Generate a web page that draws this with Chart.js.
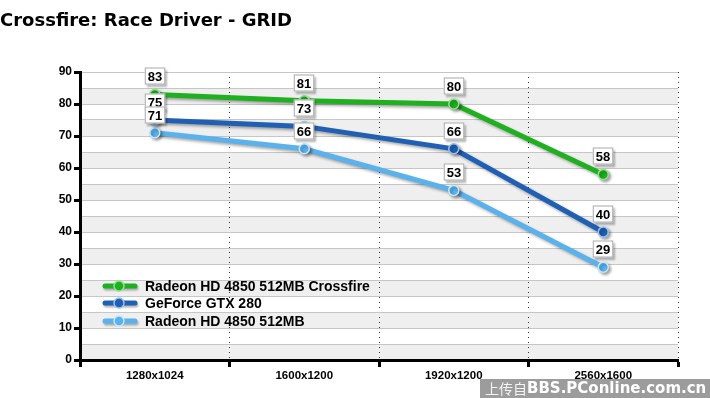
<!DOCTYPE html>
<html>
<head>
<meta charset="utf-8">
<script src="https://cdn.jsdelivr.net/npm/chart.js@4.4.0/dist/chart.umd.min.js"></script>
<style>
  html, body { margin: 0; padding: 0; background: #fff; }
  #wrap { width: 710px; height: 398px; }
</style>
</head>
<body>
<div id="wrap"><canvas id="chart" width="710" height="398"></canvas></div>
<script>
const titleText = 'Crossfire: Race Driver - GRID';
const resolutions = ['1280x1024', '1600x1200', '1920x1200', '2560x1600'];
const seriesNames = ['Radeon HD 4850 512MB Crossfire', 'GeForce GTX 280', 'Radeon HD 4850 512MB'];
const crossfireFps = [83, 81, 80, 58];
const gtx280Fps = [75, 73, 66, 40];
const hd4850Fps = [71, 66, 53, 29];
const yTicks = [0, 10, 20, 30, 40, 50, 60, 70, 80, 90];

const colors = ['#1eb01e', '#1f5fb4', '#5ab2ec'];
const rims = ['#8fe08f', '#9cc0ee', '#c6e6fb'];
const boldFont = '"Liberation Sans", Arial, sans-serif';

// grey bands between 0-5, 10-15, ...
const bandsPlugin = {
    id: 'bands',
    beforeDraw(chart) {
        const {ctx, chartArea, scales} = chart;
        const y = scales.y;
        ctx.save();
        ctx.fillStyle = '#efefef';
        for (let v = 0; v < 90; v += 10) {
            const top = y.getPixelForValue(v + 5);
            const bottom = y.getPixelForValue(v);
            ctx.fillRect(chartArea.left, top, chartArea.right - chartArea.left, bottom - top);
        }
        ctx.restore();
    }
};

const shadowPlugin = {
    id: 'lineShadow',
    beforeDatasetDraw(chart) {
        const ctx = chart.ctx;
        ctx.save();
        ctx.shadowColor = 'rgba(0,0,0,0.35)';
        ctx.shadowBlur = 3;
        ctx.shadowOffsetX = 2;
        ctx.shadowOffsetY = 2;
    },
    afterDatasetDraw(chart) {
        chart.ctx.restore();
    }
};

const labelsPlugin = {
    id: 'valueBoxes',
    afterDatasetsDraw(chart) {
        const ctx = chart.ctx;
        ctx.save();
        ctx.font = 'bold 13px ' + boldFont;
        ctx.textAlign = 'center';
        ctx.textBaseline = 'middle';
        chart.data.datasets.forEach((ds, i) => {
            chart.getDatasetMeta(i).data.forEach((pt, j) => {
                const txt = String(ds.data[j]);
                const w = ctx.measureText(txt).width + 6;
                const h = 17;
                const cx = Math.round(pt.x);
                const cy = Math.round(pt.y - 18);
                ctx.save();
                ctx.shadowColor = 'rgba(0,0,0,0.3)';
                ctx.shadowBlur = 2;
                ctx.shadowOffsetX = 2;
                ctx.shadowOffsetY = 2;
                ctx.fillStyle = '#fff';
                ctx.fillRect(cx - w / 2, cy - h / 2, w, h);
                ctx.restore();
                ctx.strokeStyle = '#aaa';
                ctx.lineWidth = 1;
                ctx.strokeRect(cx - w / 2 + 0.5, cy - h / 2 + 0.5, w - 1, h - 1);
                ctx.fillStyle = '#000';
                ctx.fillText(txt, cx, cy + 1);
            });
        });
        ctx.restore();
    }
};

const legendPlugin = {
    id: 'innerLegend',
    afterDatasetsDraw(chart) {
        const ctx = chart.ctx;
        const rows = [286, 303, 321];
        ctx.save();
        chart.data.datasets.forEach((ds, i) => {
            const y = rows[i];
            ctx.save();
            ctx.shadowColor = 'rgba(0,0,0,0.3)';
            ctx.shadowBlur = 2;
            ctx.shadowOffsetX = 1;
            ctx.shadowOffsetY = 2;
            ctx.strokeStyle = ds.borderColor;
            ctx.lineWidth = 5;
            ctx.lineCap = 'round';
            ctx.beginPath();
            ctx.moveTo(105, y);
            ctx.lineTo(135, y);
            ctx.stroke();
            ctx.restore();
            ctx.beginPath();
            ctx.arc(119, y, 5, 0, Math.PI * 2);
            ctx.fillStyle = ds.borderColor;
            ctx.fill();
            ctx.lineWidth = 1.5;
            ctx.strokeStyle = rims[i];
            ctx.stroke();
            ctx.fillStyle = '#000';
            ctx.font = 'bold 14px ' + boldFont;
            ctx.textBaseline = 'middle';
            ctx.textAlign = 'left';
            ctx.fillText(ds.label, 145, y + 1);
        });
        ctx.restore();
    }
};

const headerPlugin = {
    id: 'header',
    afterDraw(chart) {
        const ctx = chart.ctx;
        ctx.save();
        ctx.fillStyle = '#000';
        ctx.font = 'bold 18px "DejaVu Sans", Verdana, sans-serif';
        ctx.textBaseline = 'alphabetic';
        ctx.fillText(titleText, 0, 26);
        // watermark strip
        ctx.fillStyle = '#9c9c9c';
        ctx.fillRect(480, 379, 230, 19);
        ctx.fillStyle = '#f4f4f4';
        ctx.font = '14px "Noto Sans CJK SC", sans-serif';
        ctx.textBaseline = 'middle';
        ctx.fillText('上传自', 485, 389);
        ctx.fillStyle = '#fff';
        let size = 17;
        ctx.font = 'bold ' + size + 'px "DejaVu Sans", Verdana, sans-serif';
        while (ctx.measureText('BBS.PConline.com.cn').width > 180 && size > 8) {
            size -= 0.5;
            ctx.font = 'bold ' + size + 'px "DejaVu Sans", Verdana, sans-serif';
        }
        ctx.fillText('BBS.PConline.com.cn', 527, 389);
        ctx.restore();
    }
};

function makeSet(label, data, i) {
    return {
        label: label,
        data: data,
        borderColor: colors[i],
        backgroundColor: colors[i],
        borderWidth: 5,
        pointRadius: 5,
        pointBorderWidth: 1.5,
        pointBorderColor: rims[i],
        pointBackgroundColor: colors[i],
        tension: 0,
        fill: false
    };
}

new Chart(document.getElementById('chart').getContext('2d'), {
    type: 'line',
    data: {
        labels: resolutions,
        datasets: [
            makeSet(seriesNames[0], crossfireFps, 0),
            makeSet(seriesNames[1], gtx280Fps, 1),
            makeSet(seriesNames[2], hd4850Fps, 2)
        ]
    },
    plugins: [bandsPlugin, shadowPlugin, labelsPlugin, legendPlugin, headerPlugin],
    options: {
        responsive: false,
        animation: false,
        layout: {padding: {top: 72, right: 32, left: 0, bottom: 0}},
        plugins: {
            legend: {display: false},
            title: {display: false},
            tooltip: {enabled: false}
        },
        scales: {
            x: {
                offset: true,
                afterFit(scale) { scale.height = 38; },
                grid: {
                    offset: true,
                    color: '#333',
                    lineWidth: 1,
                    tickColor: '#000',
                    tickWidth: 3,
                    tickLength: 7,
                    tickBorderDash: []
                },
                border: {color: '#000', width: 3, dash: [1, 4]},
                ticks: {
                    color: '#000',
                    padding: 2,
                    font: {family: boldFont, size: 11.5, weight: 'bold'}
                }
            },
            y: {
                min: 0,
                max: 90,
                afterFit(scale) { scale.width = 80; },
                afterBuildTicks(scale) {
                    const all = [];
                    for (let v = 0; v <= 90; v += 5) all.push({value: v});
                    scale.ticks = all;
                },
                grid: {
                    color: '#c6c6c6',
                    lineWidth: 1,
                    tickLength: 6,
                    tickWidth: 3,
                    tickColor: c => (c.tick && yTicks.includes(c.tick.value)) ? '#000' : 'rgba(0,0,0,0)'
                },
                border: {color: '#000', width: 3},
                ticks: {
                    autoSkip: false,
                    color: '#000',
                    padding: 2,
                    font: {family: boldFont, size: 12, weight: 'bold'},
                    callback: v => yTicks.includes(v) ? v : ''
                }
            }
        }
    }
});
</script>
</body>
</html>
